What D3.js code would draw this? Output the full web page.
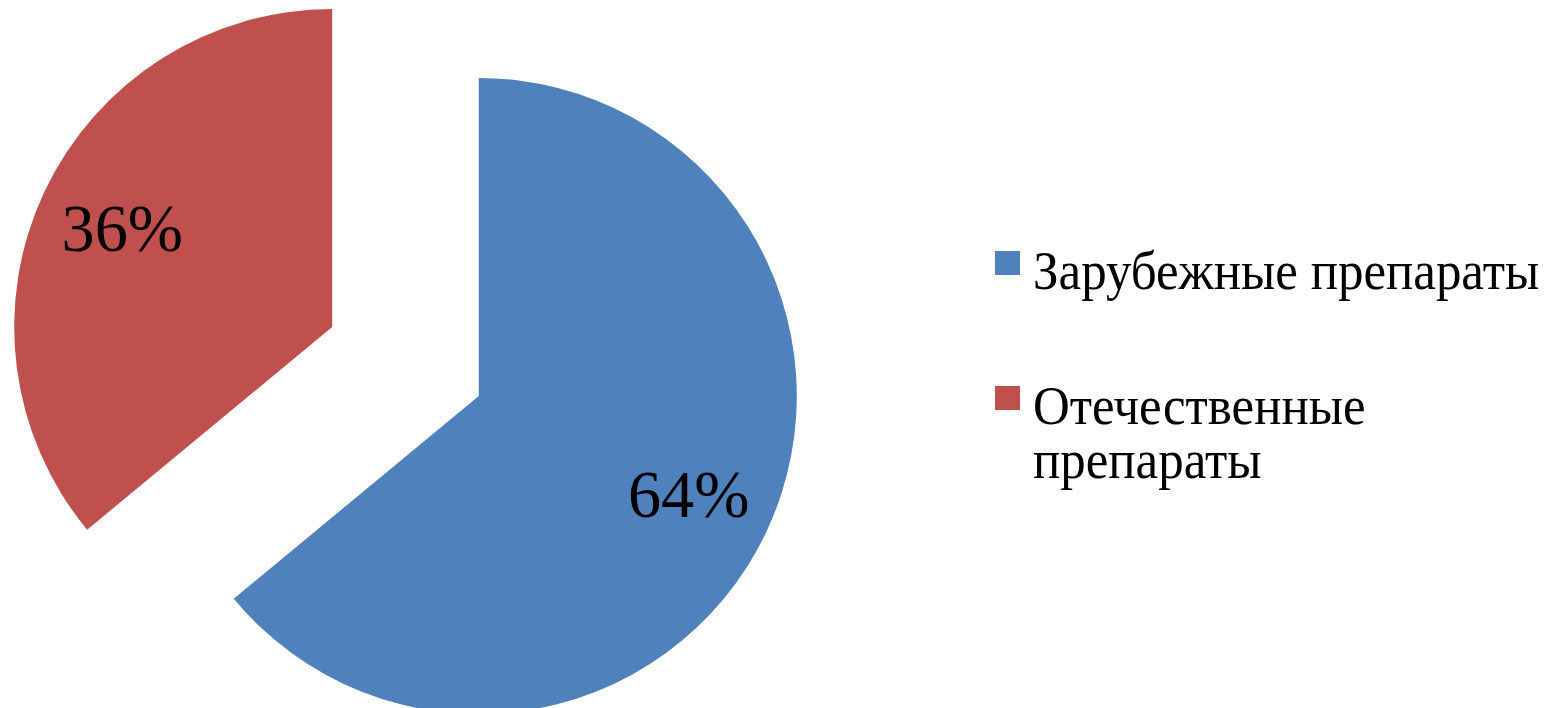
<!DOCTYPE html>
<html><head><meta charset="utf-8">
<script src="https://cdn.jsdelivr.net/npm/d3@7"></script>
<style>body{margin:0;background:#fff}svg{display:block}</style>
</head><body>
<script>
const categories = ["Зарубежные препараты", "Отечественные препараты"];
const values = [64, 36];
const labels = ["64%", "36%"];
const legendLines = [["Зарубежные препараты"], ["Отечественные", "препараты"]];

const W = 1554, H = 708;
const colors = ["#4F81BD", "#C0504D"];
const cx = 405.5, cy = 361.5, R = 318, explode = 81;
const serif = "Liberation Serif, Times New Roman, serif";

const svg = d3.select("body").append("svg").attr("width", W).attr("height", H);
const pie = d3.pie().sort(null).value(d => d)(values);
const arc = d3.arc().innerRadius(0).outerRadius(R);
const labelArc = d3.arc().innerRadius(232).outerRadius(232);

const g = svg.append("g").attr("transform", `translate(${cx},${cy})`);
const slices = g.selectAll("g.slice").data(pie).join("g").attr("class", "slice")
  .attr("transform", d => {
    const a = (d.startAngle + d.endAngle) / 2;
    return `translate(${explode * Math.sin(a)},${-explode * Math.cos(a)})`;
  });
slices.append("path").attr("d", arc).attr("fill", (d, i) => colors[i]);
slices.append("text")
  .attr("transform", d => `translate(${labelArc.centroid(d)}) scale(0.975,1)`)
  .attr("text-anchor", "middle").attr("dy", "0.33em")
  .attr("font-family", serif)
  .attr("font-size", 68).attr("fill", "#000")
  .text((d, i) => labels[i]);

const legend = svg.append("g").attr("transform", "translate(995,0)");
const legY = [251, 386];
categories.forEach((c, i) => {
  const lg = legend.append("g").attr("transform", `translate(0,${legY[i]})`);
  lg.append("rect").attr("width", 25).attr("height", 24).attr("fill", colors[i]);
  const t = lg.append("text").attr("transform", "translate(38,37.5) scale(0.935,1)")
    .attr("font-family", serif)
    .attr("font-size", 54.5).attr("fill", "#000");
  legendLines[i].forEach((line, j) => {
    t.append("tspan").attr("x", 0).attr("dy", j === 0 ? 0 : 55).text(line);
  });
});
</script>
</body></html>
